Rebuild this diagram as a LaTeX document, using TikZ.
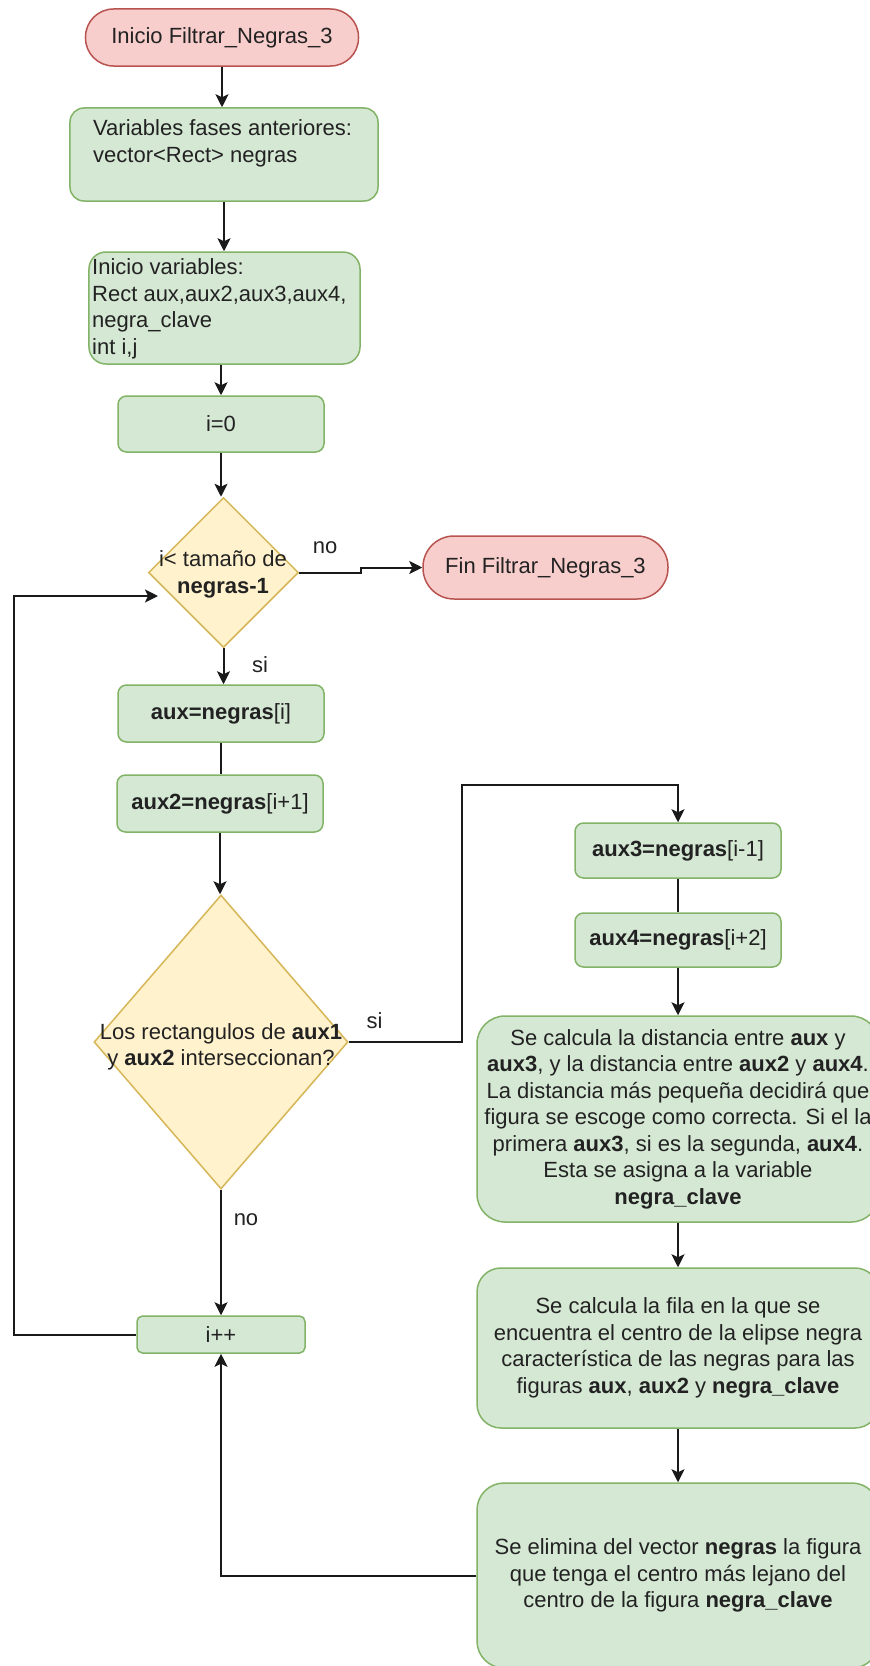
\documentclass[tikz,border=0pt]{standalone}
\usepackage{fontspec}
\setmainfont{Liberation Sans}
\usetikzlibrary{shapes.geometric,arrows.meta}
\definecolor{gfill}{HTML}{D5E8D4}
\definecolor{gline}{HTML}{82B366}
\definecolor{rfill}{HTML}{F8CECC}
\definecolor{rline}{HTML}{B85450}
\definecolor{yfill}{HTML}{FFF2CC}
\definecolor{yline}{HTML}{D6B656}
\definecolor{ink}{HTML}{222222}
\definecolor{wirecol}{HTML}{1A1A1A}

\begin{document}
\begin{tikzpicture}[x=1bp,y=-1bp,
  every node/.style={font=\fontsize{22bp}{26.5bp}\selectfont, text=ink, inner sep=0pt},
  proc/.style={draw=gline, fill=gfill, line width=1.5bp, align=center},
  term/.style={draw=rline, fill=rfill, line width=1.5bp},
  dec/.style={diamond, draw=yline, fill=yfill, line width=1.5bp},
  link/.style={draw=wirecol, line width=2bp},
  arr/.style={link, -{Stealth[length=13bp,width=13bp,inset=3bp]}}
]
% page and background
\useasboundingbox (0,0) rectangle (869,1666);
\fill[white] (0,0) rectangle (869,1666);

% main column
\node[term, minimum width=273bp, minimum height=57bp, rounded corners=28bp] (start) at (222,37.5) {Inicio Filtrar\_Negras\_3};
\node[proc, minimum width=308bp, minimum height=93bp, rounded corners=14bp] (vars1) at (224,154.5) {};
\node[anchor=west, align=left] (tvars1) at (93,143.5) {Variables fases anteriores:\\vector<Rect> negras};
\node[proc, minimum width=271bp, minimum height=112bp, rounded corners=17bp] (vars2) at (224.5,308) {};
\node[anchor=west, align=left] (tvars2) at (92,309) {Inicio variables:\\Rect aux,aux2,aux3,aux4,\\negra\_clave\\int i,j};
\node[proc, minimum width=206bp, minimum height=56bp, rounded corners=8.5bp] (i0) at (221,424) {i=0};
\node[dec, minimum width=150bp, minimum height=150bp] (d1) at (223.5,572.5) {};
\node[align=center] (td1) at (223,574.5) {i< tamaño de\\\textbf{negras-1}};
\node[term, minimum width=245bp, minimum height=63bp, rounded corners=31bp] (fin) at (545.5,567.5) {Fin Filtrar\_Negras\_3};
\node[proc, minimum width=206bp, minimum height=57bp, rounded corners=8.5bp] (aux) at (221,713.5) {\textbf{aux=negras}[i]};
\node[proc, minimum width=206bp, minimum height=57bp, rounded corners=8.5bp] (aux2) at (220,803.5) {\textbf{aux2=negras}[i+1]};
\node[dec, minimum width=254bp, minimum height=294bp] (d2) at (221,1042) {};
\node[align=center] (td2) at (221,1047) {Los rectangulos de \textbf{aux1}\\y \textbf{aux2} interseccionan?};
\node[proc, minimum width=168bp, minimum height=37bp, rounded corners=5.5bp] (inc) at (221,1334.5) {i++};

% right column
\node[proc, minimum width=206bp, minimum height=55bp, rounded corners=8.5bp] (aux3) at (678,850.5) {\textbf{aux3=negras}[i-1]};
\node[proc, minimum width=206bp, minimum height=54bp, rounded corners=8.5bp] (aux4) at (678,940) {\textbf{aux4=negras}[i+2]};
\node[proc, minimum width=402bp, minimum height=206bp, rounded corners=28bp] (calc1) at (678,1119) {Se calcula la distancia entre \textbf{aux} y\\\textbf{aux3}, y la distancia entre \textbf{aux2} y \textbf{aux4}.\\La distancia más pequeña decidirá que\\figura se escoge como correcta. Si el la\\primera \textbf{aux3}, si es la segunda, \textbf{aux4}.\\Esta se asigna a la variable\\\textbf{negra\_clave}};
\node[proc, minimum width=402bp, minimum height=160bp, rounded corners=24bp] (calc2) at (678,1348) {Se calcula la fila en la que se\\encuentra el centro de la elipse negra\\característica de las negras para las\\figuras \textbf{aux}, \textbf{aux2} y \textbf{negra\_clave}};
\node[proc, minimum width=402bp, minimum height=185bp, rounded corners=27bp] (calc3) at (678,1575.5) {Se elimina del vector \textbf{negras} la figura\\que tenga el centro más lejano del\\centro de la figura \textbf{negra\_clave}};

% connectors
\draw[arr] (start.south) -- (start.south |- vars1.north);
\draw[arr] (vars1.south) -- (vars1.south |- vars2.north);
\draw[arr] (vars2.south -| i0.north) -- (i0.north);
\draw[arr] (i0.south) -- (i0.south |- d1.north);
\draw[arr] (d1.east) -- ++(62,0) |- (fin.west);
\draw[arr] (d1.south) -- (d1.south |- aux.north);
\draw[link] (aux.south) -- (aux.south |- aux2.north);
\draw[arr] (aux2.south) -- (aux2.south |- d2.north);
\coordinate (jog) at (462,785);
\draw[arr] (d2.east) -| (jog) -| (aux3.north);
\draw[link] (aux3.south) -- (aux4.north);
\draw[arr] (aux4.south) -- (calc1.north);
\draw[arr] (calc1.south) -- (calc2.north);
\draw[arr] (calc2.south) -- (calc3.north);
\draw[arr] (d2.south) -- (d2.south |- inc.north);
\draw[arr] (calc3.west) -| (inc.south);
\coordinate (loopturn) at (14,596);
\coordinate (loopend) at (158,596);
\draw[arr] (inc.west) -| (loopturn) -- (loopend);

% branch labels
\node (lno1) at (325,548) {no};
\node (lsi1) at (260,665) {si};
\node (lsi2) at (374.5,1021) {si};
\node (lno2) at (246,1220) {no};
\end{tikzpicture}
\end{document}
